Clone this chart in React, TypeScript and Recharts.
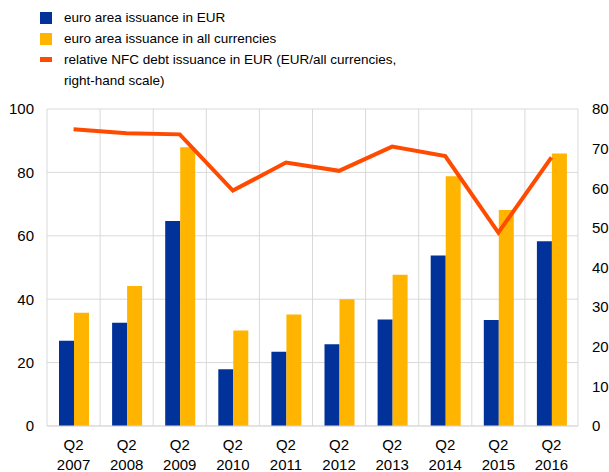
import React from "react";
import {
  ComposedChart,
  Bar,
  Line,
  XAxis,
  YAxis,
  CartesianGrid,
} from "recharts";

const categories = [
  "Q2 2007",
  "Q2 2008",
  "Q2 2009",
  "Q2 2010",
  "Q2 2011",
  "Q2 2012",
  "Q2 2013",
  "Q2 2014",
  "Q2 2015",
  "Q2 2016",
];
const issuanceEur = [26.9, 32.6, 64.7, 17.9, 23.4, 25.8, 33.6, 53.8, 33.4, 58.3];
const issuanceAll = [35.7, 44.2, 87.9, 30.1, 35.2, 40.0, 47.7, 78.8, 68.1, 86.0];
const relativeEur = [74.9, 73.9, 73.6, 59.4, 66.5, 64.4, 70.5, 68.1, 48.8, 67.8];
const leftTicks = [0, 20, 40, 60, 80, 100];
const rightTicks = [0, 10, 20, 30, 40, 50, 60, 70, 80];

const BLUE = "#003299";
const YELLOW = "#FFB400";
const ORANGE = "#FF4B00";
const FONT = "'Liberation Sans', Arial, sans-serif";

const data = categories.map((c, i) => ({
  label: c,
  eur: issuanceEur[i],
  all: issuanceAll[i],
  rel: relativeEur[i],
}));

function TwoLineTick(props: any) {
  const { x, y, payload } = props;
  const [q, yr] = String(payload.value).split(" ");
  return (
    <text x={x} y={y} textAnchor="middle" fill="#000" fontSize={15} fontFamily={FONT}>
      <tspan x={x} dy={16}>{q}</tspan>
      <tspan x={x} dy={20}>{yr}</tspan>
    </text>
  );
}

const legendItems = [
  { text: "euro area issuance in EUR", color: BLUE, kind: "box" },
  { text: "euro area issuance in all currencies", color: YELLOW, kind: "box" },
  { text: "relative NFC debt issuance in EUR (EUR/all currencies,", color: ORANGE, kind: "line" },
  { text: "right-hand scale)", color: "", kind: "none" },
];

export default function App() {
  return (
    <div style={{ position: "absolute", left: 0, top: 0, width: 609, height: 472, background: "#fff" }}>
      <div style={{ position: "absolute", left: 40, top: 7, fontFamily: FONT, fontSize: 13.5, color: "#000" }}>
        {legendItems.map((it, i) => (
          <div key={i} style={{ display: "flex", alignItems: "center", height: 21 }}>
            <span
              style={{
                display: "inline-block",
                width: 12,
                height: it.kind === "line" ? 5 : 12,
                background: it.kind === "none" ? "transparent" : it.color,
                marginRight: 12,
              }}
            />
            <span>{it.text}</span>
          </div>
        ))}
      </div>
      <ComposedChart
        width={609}
        height={472}
        data={data}
        margin={{ top: 109, right: 0, left: 0, bottom: 0 }}
        barGap={0}
        style={{ fontFamily: FONT }}
      >
        <CartesianGrid
          stroke="#d9d9d9"
          strokeWidth={1}
          yAxisId="left"
          verticalCoordinatesGenerator={({ offset }: any) =>
            categories.map((_, i) => offset.left + (i * offset.width) / categories.length).concat(offset.left + offset.width)
          }
        />
        <XAxis
          dataKey="label"
          height={46}
          tickLine={false}
          axisLine={{ stroke: "#d9d9d9" }}
          interval={0}
          tick={<TwoLineTick />}
        />
        <YAxis
          yAxisId="left"
          orientation="left"
          width={47}
          domain={[0, 100]}
          ticks={leftTicks}
          tickLine={false}
          axisLine={false}
          tickMargin={7}
          tick={{ fill: "#000", fontSize: 15 }}
        />
        <YAxis
          yAxisId="right"
          orientation="right"
          width={31}
          domain={[0, 80]}
          ticks={rightTicks}
          tickLine={false}
          axisLine={false}
          tickMargin={8}
          tick={{ fill: "#000", fontSize: 15, textAnchor: "start" }}
        />
        <Bar yAxisId="left" dataKey="eur" fill={BLUE} barSize={15} isAnimationActive={false} />
        <Bar yAxisId="left" dataKey="all" fill={YELLOW} barSize={15} isAnimationActive={false} />
        <Line
          yAxisId="right"
          dataKey="rel"
          type="linear"
          stroke={ORANGE}
          strokeWidth={4}
          dot={false}
          activeDot={false}
          isAnimationActive={false}
        />
      </ComposedChart>
    </div>
  );
}
